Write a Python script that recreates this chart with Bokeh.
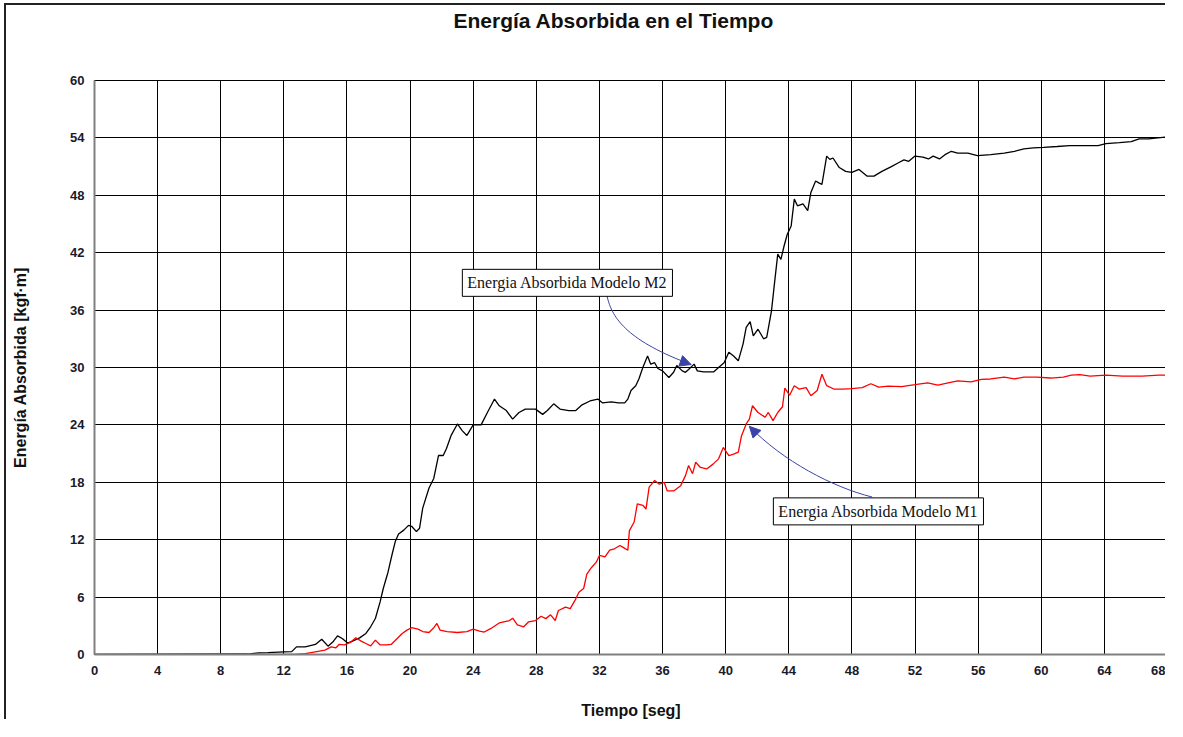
from bokeh.plotting import figure
from bokeh.models import Range1d, FixedTicker, Label, Arrow, NormalHead, Title
from bokeh.embed import file_html
from bokeh.resources import INLINE

# ---------------- data ----------------
title_text = "Energía Absorbida en el Tiempo"
x_label = "Tiempo [seg]"
y_label = "Energía Absorbida [kgf·m]"
x_ticks = [0, 4, 8, 12, 16, 20, 24, 28, 32, 36, 40, 44, 48, 52, 56, 60, 64, 68]
y_ticks = [0, 6, 12, 18, 24, 30, 36, 42, 48, 54, 60]

# Modelo M2 (black)
t_m2 = [0, 9.7, 10.4, 11.0, 12.0, 12.5, 12.8, 13.35, 14.0, 14.4,
        14.8, 15.1, 15.4, 15.7, 16.04, 16.35, 16.8, 17.2, 17.5, 17.8,
        18.1, 18.3, 18.6, 18.85, 19.06, 19.27, 19.6, 19.9, 20.1, 20.4,
        20.6, 20.8, 21.2, 21.5, 21.8, 22.1, 22.3, 22.6, 23.0, 23.3,
        23.6, 24.0, 24.5, 24.9, 25.35, 25.65, 26.1, 26.5, 26.9, 27.3,
        27.95, 28.4, 28.7, 29.1, 29.5, 30.05, 30.5, 30.9, 31.4, 31.9,
        32.2, 32.75, 33.2, 33.6, 33.8, 34.0, 34.3, 34.5, 34.75, 35.05,
        35.25, 35.5, 35.7, 36.0, 36.4, 36.7, 36.9, 37.25, 37.45, 37.65,
        38.0, 38.2, 38.6, 39.25, 39.55, 39.9, 40.2, 40.5, 40.8, 41.1,
        41.3, 41.55, 41.75, 42.05, 42.4, 42.6, 42.9, 43.1, 43.3, 43.5,
        43.7, 43.9, 44.15, 44.35, 44.55, 44.9, 45.2, 45.4, 45.7, 45.9,
        46.1, 46.3, 46.4, 46.6, 46.8, 47.2, 47.6, 48.0, 48.45, 48.97,
        49.4, 49.9, 50.5, 50.95, 51.3, 51.6, 52.0, 52.5, 52.85, 53.15,
        53.55, 53.9, 54.3, 54.7, 55.35, 55.95, 56.8, 57.65, 58.3, 58.9,
        59.5, 60.15, 61.0, 61.8, 62.65, 63.6, 64.1, 64.95, 65.7, 66.2,
        66.8, 68.0]
e_m2 = [0, 0.05, 0.17, 0.2, 0.28, 0.3, 0.8, 0.8, 1.05, 1.6,
        0.87, 1.3, 1.95, 1.67, 1.2, 1.4, 1.74, 2.2, 2.9, 3.76,
        5.5, 6.9, 8.6, 10.4, 11.8, 12.6, 13.0, 13.5, 13.4, 12.85,
        13.2, 15.3, 17.4, 18.4, 20.8, 20.8, 21.5, 22.9, 24.1, 23.4,
        22.9, 24.0, 24.0, 25.3, 26.7, 26.0, 25.5, 24.6, 25.3, 25.65,
        25.65, 25.1, 25.5, 26.2, 25.65, 25.5, 25.5, 26.1, 26.5, 26.7,
        26.3, 26.4, 26.3, 26.3, 26.7, 27.6, 28.1, 28.8, 30.0, 31.2,
        30.35, 30.5, 29.9, 29.65, 28.95, 29.5, 30.2, 29.65, 29.5, 29.8,
        30.35, 29.65, 29.55, 29.55, 30.0, 30.5, 31.6, 31.2, 30.7, 32.45,
        34.2, 34.8, 33.3, 34.0, 33.0, 33.15, 35.9, 38.9, 41.85, 41.3,
        42.7, 43.9, 44.8, 47.6, 46.9, 47.1, 46.4, 48.3, 49.5, 49.3,
        49.15, 51.1, 52.1, 51.75, 51.9, 50.9, 50.5, 50.4, 50.7, 50.0,
        50.0, 50.5, 51.0, 51.4, 51.7, 51.55, 52.1, 52.0, 51.8, 52.1,
        51.8, 52.25, 52.6, 52.4, 52.4, 52.15, 52.25, 52.4, 52.6, 52.85,
        52.95, 53.0, 53.1, 53.2, 53.2, 53.2, 53.4, 53.5, 53.6, 53.9,
        53.9, 54.1]

# Modelo M1 (red)
t_m1 = [0, 12.7, 13.35, 14.0, 14.6, 15.0, 15.3, 15.5, 15.85, 16.25,
        16.56, 16.9, 17.2, 17.5, 17.8, 18.1, 18.5, 18.8, 19.2, 19.5,
        19.8, 20.1, 20.5, 20.8, 21.2, 21.5, 21.7, 21.9, 22.35, 23.0,
        23.6, 24.0, 24.4, 24.7, 25.1, 25.65, 26.3, 26.5, 26.8, 27.2,
        27.5, 27.95, 28.3, 28.6, 28.9, 29.2, 29.4, 29.85, 30.15, 30.45,
        30.7, 31.0, 31.2, 31.5, 31.8, 32.0, 32.35, 32.65, 32.95, 33.3,
        33.5, 33.8, 33.9, 34.2, 34.4, 34.75, 34.95, 35.15, 35.5, 35.8,
        36.1, 36.3, 36.7, 37.15, 37.45, 37.65, 37.9, 38.1, 38.4, 38.8,
        39.2, 39.55, 39.85, 40.2, 40.5, 40.8, 41.0, 41.3, 41.5, 41.7,
        42.05, 42.5, 42.7, 43.0, 43.3, 43.6, 43.75, 44.05, 44.35, 44.65,
        45.1, 45.4, 45.8, 46.1, 46.4, 46.85, 47.4, 48.0, 48.65, 49.2,
        49.7, 50.3, 51.15, 52.0, 52.8, 53.45, 54.1, 54.7, 55.55, 56.2,
        56.8, 57.65, 58.3, 58.9, 59.7, 60.6, 61.4, 61.9, 62.45, 63.1,
        64.1, 65.15, 66.4, 67.45, 68.0]
e_m1 = [0, 0, 0.1, 0.28, 0.45, 0.8, 0.7, 1.05, 1.0, 1.3,
        1.75, 1.4, 1.15, 0.9, 1.5, 1.0, 1.0, 1.05, 1.7, 2.2,
        2.55, 2.8, 2.65, 2.4, 2.3, 2.8, 3.25, 2.55, 2.4, 2.3,
        2.4, 2.65, 2.45, 2.35, 2.7, 3.3, 3.55, 3.8, 3.1, 2.9,
        3.4, 3.55, 4.0, 3.75, 4.15, 3.55, 4.6, 4.95, 4.8, 5.65,
        6.5, 6.9, 8.4, 9.1, 9.65, 10.35, 10.2, 10.9, 11.05, 11.4,
        11.2, 10.9, 12.95, 13.85, 15.75, 15.6, 15.2, 17.5, 18.2, 17.8,
        18.0, 17.1, 17.1, 17.65, 18.7, 19.75, 18.9, 20.1, 19.55, 19.4,
        19.9, 20.45, 21.65, 20.8, 20.95, 21.15, 22.85, 24.1, 24.6, 26.0,
        25.3, 24.8, 25.3, 24.45, 25.3, 25.9, 27.85, 27.1, 28.1, 27.75,
        27.9, 27.05, 27.6, 29.3, 28.1, 27.75, 27.75, 27.8, 27.9, 28.3,
        27.95, 28.05, 28.0, 28.2, 28.4, 28.15, 28.4, 28.6, 28.5, 28.75,
        28.8, 29.0, 28.8, 29.0, 29.0, 28.9, 29.0, 29.2, 29.25, 29.1,
        29.2, 29.1, 29.1, 29.2, 29.2]

# annotation texts and anchor points (data units)
m2_text = "Energia Absorbida Modelo M2"
m1_text = "Energia Absorbida Modelo M1"
m2_box = (29.97, 38.85)
m1_box = (49.68, 14.96)
m2_curve = dict(x0=32.48, y0=37.5, cx0=32.79, cy0=35.0, cx1=33.92, cy1=32.71, x1=37.81, y1=30.31)
m1_curve = dict(x0=49.28, y0=16.46, cx0=46.77, cy0=17.5, cx1=43.64, cy1=20.21, x1=41.5, y1=23.85)
m2_head = (37.21, 30.66, 37.81, 30.31)
m1_head = (41.94, 23.10, 41.5, 23.85)

# ---------------- figure ----------------
p = figure(width=1161, height=716, x_range=Range1d(0, 68), y_range=Range1d(0, 60),
           output_backend="svg", toolbar_location=None,
           min_border_left=88, min_border_right=0, min_border_top=75, min_border_bottom=65)
p.styles = {"position": "relative", "left": "4px", "top": "3px",
            "border-left": "2px solid #222", "border-top": "2px solid #222"}
p.title.text = ""

spacer = Title(text=" ", text_font_size="1px", standoff=42)
main_title = Title(text=title_text, align="left", offset=359, vertical_align="middle",
                   standoff=5, text_font="Liberation Sans", text_font_style="bold",
                   text_font_size="21px", text_color="#111111")
p.add_layout(spacer, "above")
p.add_layout(main_title, "above")

p.background_fill_color = "white"
p.border_fill_color = "white"
p.outline_line_color = "black"
p.outline_line_width = 1

for ax, ticks in ((p.xaxis, x_ticks), (p.yaxis, y_ticks)):
    ax.ticker = FixedTicker(ticks=ticks)
    ax.major_tick_line_color = None
    ax.minor_tick_line_color = None
    ax.axis_line_color = "#808080"
    ax.axis_line_width = 2
    ax.major_label_text_font = "Liberation Sans"
    ax.major_label_text_font_style = "bold"
    ax.major_label_text_font_size = "13px"
    ax.major_label_text_color = "#1a1a2a"
    ax.axis_label_text_font = "Liberation Sans"
    ax.axis_label_text_font_style = "bold"
    ax.axis_label_text_font_size = "16px"
    ax.axis_label_text_color = "#111111"

p.xaxis.axis_label = x_label
p.yaxis.axis_label = y_label
p.xaxis.major_label_standoff = 5
p.yaxis.major_label_standoff = 4
p.xaxis.axis_label_standoff = 24
p.yaxis.axis_label_standoff = 38

for g in (p.xgrid, p.ygrid):
    g.grid_line_color = "black"
    g.grid_line_width = 1
    g.grid_line_alpha = 1.0

p.line(t_m2, e_m2, line_color="black", line_width=1.3)
p.line(t_m1, e_m1, line_color="#ff0000", line_width=1.3)

arrow_color = "#3a44a6"
p.bezier(x0=[m2_curve["x0"], m1_curve["x0"]], y0=[m2_curve["y0"], m1_curve["y0"]],
         x1=[m2_curve["x1"], m1_curve["x1"]], y1=[m2_curve["y1"], m1_curve["y1"]],
         cx0=[m2_curve["cx0"], m1_curve["cx0"]], cy0=[m2_curve["cy0"], m1_curve["cy0"]],
         cx1=[m2_curve["cx1"], m1_curve["cx1"]], cy1=[m2_curve["cy1"], m1_curve["cy1"]],
         line_color=arrow_color, line_width=1)
for (xs, ys, xe, ye) in (m2_head, m1_head):
    p.add_layout(Arrow(end=NormalHead(size=11, fill_color=arrow_color, line_color=arrow_color),
                       x_start=xs, y_start=ys, x_end=xe, y_end=ye,
                       line_color=arrow_color, line_width=1))

for (bx, by), txt in ((m2_box, m2_text), (m1_box, m1_text)):
    p.add_layout(Label(x=bx, y=by, text=txt, text_font="Liberation Serif",
                       text_font_size="16px", text_color="#111111",
                       text_align="center", text_baseline="middle",
                       background_fill_color="white", border_line_color="black",
                       border_line_width=1, padding=5))

open("out.html", "w").write(file_html(p, INLINE))
